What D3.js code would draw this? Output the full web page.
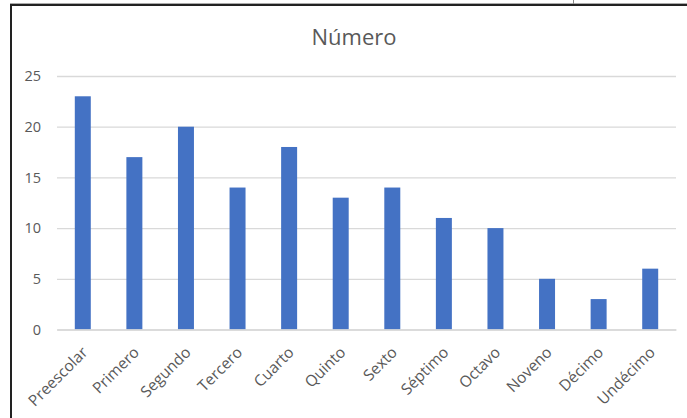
<!DOCTYPE html>
<html><head><meta charset="utf-8">
<script src="https://cdn.jsdelivr.net/npm/d3@7"></script>
<style>html,body{margin:0;padding:0;background:#fff;overflow:hidden}</style>
</head><body>
<svg id="c" width="687" height="418"></svg>
<script>
const categories = ["Preescolar","Primero","Segundo","Tercero","Cuarto","Quinto","Sexto","Séptimo","Octavo","Noveno","Décimo","Undécimo"];
const values = [23,17,20,14,18,13,14,11,10,5,3,6];
const yTicks = [0,5,10,15,20,25];
const title = "Número";

(function(){
const svg = d3.select("#c");
const font = "'Open Sans', 'Noto Sans', sans-serif";
const pLeft = 57, pRight = 676, pTop = 76, pBottom = 329.5;

const x = d3.scaleBand().domain(categories).range([pLeft, pRight]).paddingInner(0.69).paddingOuter(0.345);
const y = d3.scaleLinear().domain([0, 25]).range([pBottom, pTop]);

// frame
svg.append("line").attr("x1",10).attr("x2",687).attr("y1",5).attr("y2",5).attr("stroke","#222").attr("stroke-width",2);
svg.append("line").attr("x1",10).attr("x2",687).attr("y1",3.5).attr("y2",3.5).attr("stroke","#aaa").attr("stroke-width",1);
svg.append("line").attr("x1",11).attr("x2",11).attr("y1",4).attr("y2",418).attr("stroke","#222").attr("stroke-width",2);
svg.append("line").attr("x1",573.5).attr("x2",573.5).attr("y1",0).attr("y2",4).attr("stroke","#888").attr("stroke-width",1);

// gridlines
const yAxis = d3.axisLeft(y).tickValues(yTicks).tickSize(-(pRight-pLeft)).tickPadding(16);
const ga = svg.append("g").attr("transform",`translate(${pLeft},0)`).call(yAxis);
ga.select(".domain").remove();
ga.selectAll(".tick line").attr("stroke","#d9d9d9").attr("stroke-width",1.3);
ga.selectAll(".tick text").attr("fill","#595959").attr("font-family",font).attr("font-size",14.5);

// bars
svg.append("g").selectAll("rect").data(values).join("rect")
  .attr("x",(d,i)=>x(categories[i]))
  .attr("width",x.bandwidth())
  .attr("y",d=>y(d))
  .attr("height",d=>y(0)-y(d))
  .attr("fill","#4472C4");

// x axis
const xAxis = d3.axisBottom(x).tickSize(0).tickPadding(0);
const gx = svg.append("g").attr("transform",`translate(0,${pBottom})`).call(xAxis);
gx.select(".domain").attr("stroke","#d9d9d9").attr("stroke-width",1.3);
gx.selectAll(".tick text")
  .attr("fill","#595959").attr("font-family",font).attr("font-size",15.5)
  .attr("text-anchor","end")
  .attr("transform","translate(2,20) rotate(-45)")
  .attr("dy","0.35em").attr("y",0);

// title
svg.append("text").attr("x",354).attr("y",45).attr("text-anchor","middle")
  .attr("fill","#595959").attr("font-family",font).attr("font-size",22).text(title);
})();
</script>
</body></html>
